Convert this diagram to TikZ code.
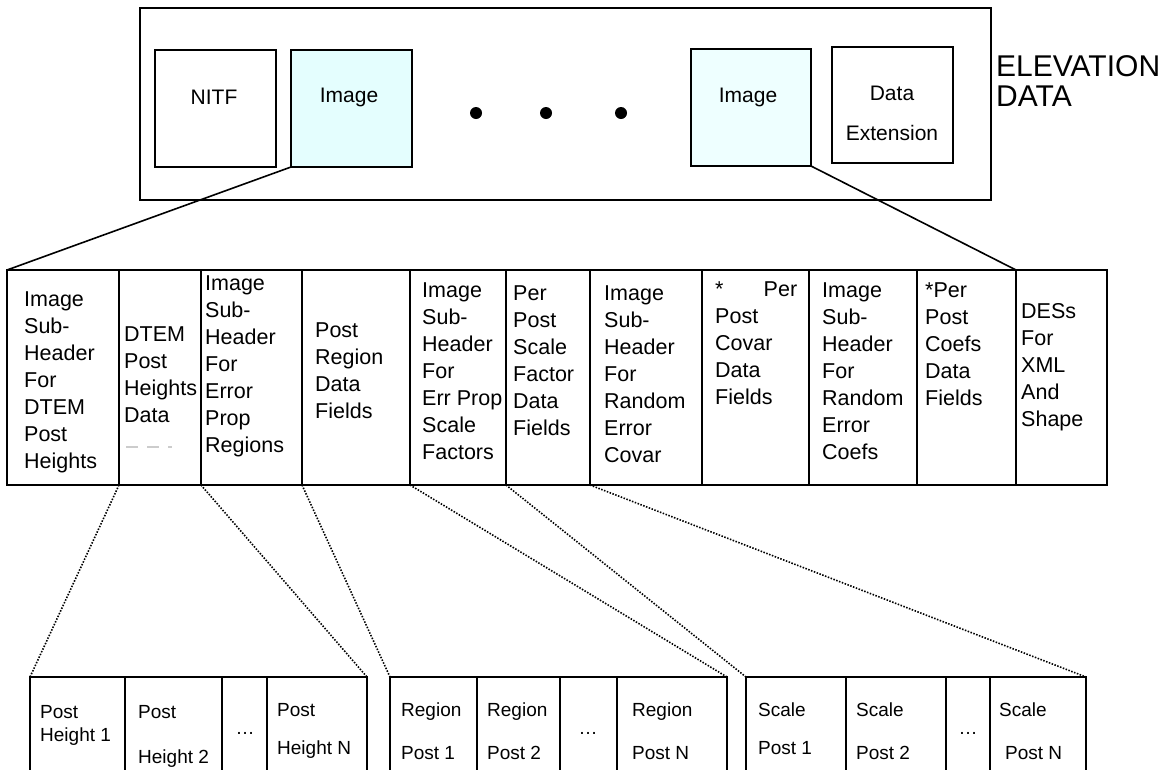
\documentclass[tikz,border=0pt]{standalone}
\usepackage{fontspec}
\setmainfont{Liberation Sans}
\definecolor{imgfill}{HTML}{E4FEFE}
\definecolor{imgfillb}{HTML}{EEFFFF}
\begin{document}
\begin{tikzpicture}[x=1pt,y=-1pt,
  box/.style={draw, line width=1.6pt, inner sep=0pt, outer sep=0pt, anchor=north west},
  imgbox/.style={box, line width=2.4pt, fill=imgfill},
  col/.style={draw, line width=1.6pt, inner sep=0pt, outer sep=0pt, anchor=north west, minimum height=215pt},
  coltext/.style={anchor=north west, inner sep=0pt, align=left, font=\fontsize{21.5}{27}\selectfont},
  toptext/.style={inner sep=0pt, font=\fontsize{21}{25}\selectfont},
  bigtext/.style={anchor=base west, inner sep=0pt, font=\fontsize{30}{30}\selectfont},
  cell/.style={draw, line width=1.6pt, inner sep=0pt, outer sep=0pt, anchor=north west, minimum height=140pt},
  celltext/.style={anchor=base west, inner sep=0pt, font=\fontsize{19}{22}\selectfont},
  link/.style={line width=1.6pt},
  dotlink/.style={line width=1.6pt, dash pattern=on 1.5pt off 1.5pt},
  bigdot/.style={circle, fill, inner sep=0pt, minimum size=12pt}
]
\useasboundingbox (0,0) rectangle (1169,769);
\begin{scope}
\clip (0,0) rectangle (1169,769);

% top container
\node[box, minimum width=851pt, minimum height=192pt] (outer) at (140,8) {};
\node[box, minimum width=121pt, minimum height=117pt] (nitf) at (155,50) {};
\node[imgbox, minimum width=121pt, minimum height=117pt] (img1) at (291,50) {};
\node[imgbox, fill=imgfillb, minimum width=120pt, minimum height=117pt] (img2) at (691,49) {};
\node[box, minimum width=121pt, minimum height=116pt] (dext) at (832,47) {};

\node[toptext] (nitfl) at (214,97) {NITF};
\node[toptext] (img1l) at (349,97) {Image};
\node[toptext] (img2l) at (748,97) {Image};
\node[toptext] (dextl1) at (892,93) {Data};
\node[toptext] (dextl2) at (892,133) {Extension};

\node[bigdot] (d1) at (476,113) {};
\node[bigdot] (d2) at (546,113) {};
\node[bigdot] (d3) at (621,113) {};

\node[bigtext] (elev1) at (996,76) {ELEVATION};
\node[bigtext] (elev2) at (996,106) {DATA};

% row of columns
\node[col, minimum width=112pt] (c1) at (7,270) {};
\node[col, minimum width=82pt] (c2) at (119,270) {};
\node[col, minimum width=101pt] (c3) at (201,270) {};
\node[col, minimum width=108pt] (c4) at (302,270) {};
\node[col, minimum width=96pt] (c5) at (410,270) {};
\node[col, minimum width=84pt] (c6) at (506,270) {};
\node[col, minimum width=112pt] (c7) at (590,270) {};
\node[col, minimum width=107pt] (c8) at (702,270) {};
\node[col, minimum width=108pt] (c9) at (809,270) {};
\node[col, minimum width=99pt] (c10) at (917,270) {};
\node[col, minimum width=91pt] (c11) at (1016,270) {};

\node[coltext] (t1) at (24,291) {Image\\Sub-\\Header\\For\\DTEM\\Post\\Heights};
\node[coltext] (t2) at (124,326) {DTEM\\Post\\Heights\\Data};
\node[coltext] (t3) at (205,275) {Image\\Sub-\\Header\\For\\Error\\Prop\\Regions};
\node[coltext] (t4) at (315,322) {Post\\Region\\Data\\Fields};
\node[coltext] (t5) at (422,282) {Image\\Sub-\\Header\\For\\Err Prop\\Scale\\Factors};
\node[coltext] (t6) at (513,285) {Per\\Post\\Scale\\Factor\\Data\\Fields};
\node[coltext] (t7) at (604,285) {Image\\Sub-\\Header\\For\\Random\\Error\\Covar};
\node[coltext, text width=82pt] (t8) at (715,282) {*\hfill Per\\Post\\Covar\\Data\\Fields};
\node[coltext] (t9) at (822,282) {Image\\Sub-\\Header\\For\\Random\\Error\\Coefs};
\node[coltext] (t10) at (925,282) {*Per\\Post\\Coefs\\Data\\Fields};
\node[coltext] (t11) at (1021,303) {DESs\\For\\XML\\And\\Shape};

\draw[gray!40, line width=1.2pt, dash pattern=on 12pt off 9pt] (126,447) -- (172,447);

% bottom boxes
\node[cell, minimum width=95pt] (b1a) at (30,677) {};
\node[cell, minimum width=97pt] (b1b) at (125,677) {};
\node[cell, minimum width=45pt] (b1c) at (222,677) {};
\node[cell, minimum width=100pt] (b1d) at (267,677) {};

\node[cell, minimum width=87pt] (b2a) at (390,677) {};
\node[cell, minimum width=83pt] (b2b) at (477,677) {};
\node[cell, minimum width=57pt] (b2c) at (560,677) {};
\node[cell, minimum width=110pt] (b2d) at (617,677) {};

\node[cell, minimum width=100pt] (b3a) at (746,677) {};
\node[cell, minimum width=100pt] (b3b) at (846,677) {};
\node[cell, minimum width=44pt] (b3c) at (946,677) {};
\node[cell, minimum width=96pt] (b3d) at (990,677) {};

\node[celltext] (l1a1) at (40,718) {Post};
\node[celltext] (l1a2) at (40,741) {Height 1};
\node[celltext] (l1b1) at (138,718) {Post};
\node[celltext] (l1b2) at (138,763) {Height 2};
\node[celltext, anchor=base] (l1c) at (245,734) {…};
\node[celltext] (l1d1) at (277,716) {Post};
\node[celltext] (l1d2) at (277,754) {Height N};

\node[celltext] (l2a1) at (401,716) {Region};
\node[celltext] (l2a2) at (401,759) {Post 1};
\node[celltext] (l2b1) at (487,716) {Region};
\node[celltext] (l2b2) at (487,759) {Post 2};
\node[celltext, anchor=base] (l2c) at (588,734) {…};
\node[celltext] (l2d1) at (632,716) {Region};
\node[celltext] (l2d2) at (632,759) {Post N};

\node[celltext] (l3a1) at (758,716) {Scale};
\node[celltext] (l3a2) at (758,754) {Post 1};
\node[celltext] (l3b1) at (856,716) {Scale};
\node[celltext] (l3b2) at (856,759) {Post 2};
\node[celltext, anchor=base] (l3c) at (968,734) {…};
\node[celltext] (l3d1) at (999,716) {Scale};
\node[celltext] (l3d2) at (1005,759) {Post N};

% connectors
\draw[link] (img1.south west) -- (c1.north west);
\draw[link] (img2.south east) -- (c11.north west);

\draw[dotlink] (c2.south west) -- (b1a.north west);
\draw[dotlink] (c2.south east) -- (b1d.north east);
\draw[dotlink] (c4.south west) -- (b2a.north west);
\draw[dotlink] (c4.south east) -- (b2d.north east);
\draw[dotlink] (c6.south west) -- (b3a.north west);
\draw[dotlink] (c6.south east) -- (b3d.north east);
\end{scope}
\end{tikzpicture}
\end{document}
